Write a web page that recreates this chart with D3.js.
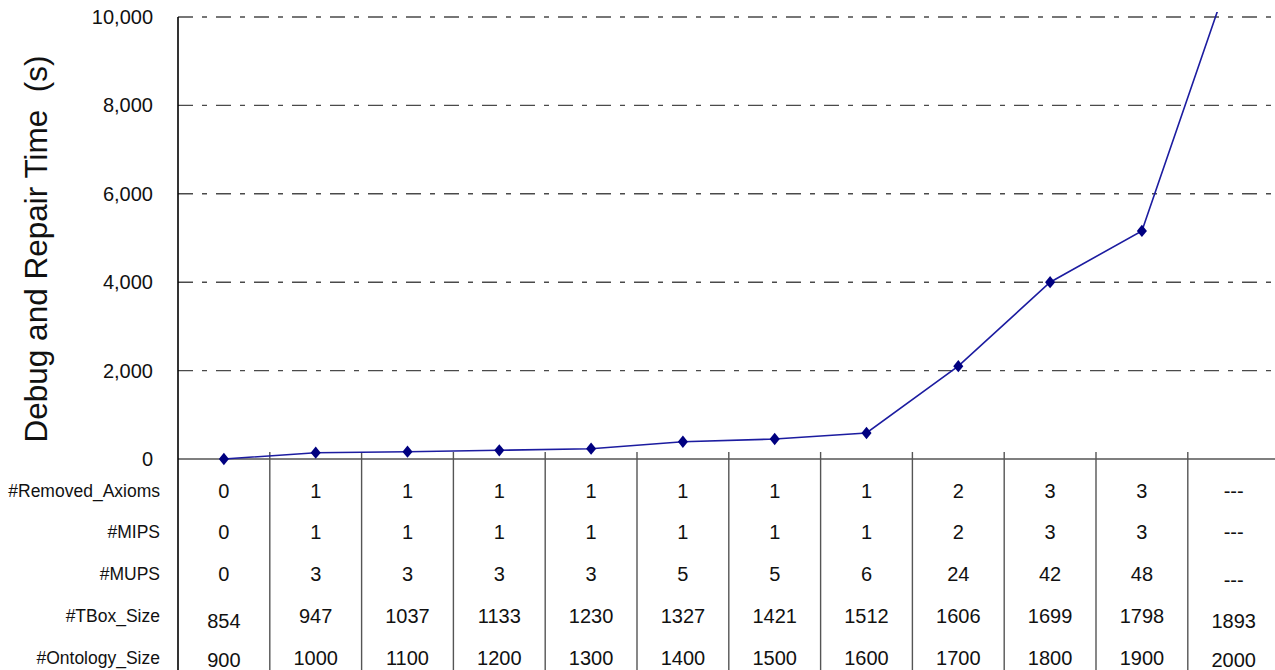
<!DOCTYPE html>
<html>
<head>
<meta charset="utf-8">
<script src="https://cdn.jsdelivr.net/npm/d3@7"></script>
<style>
  html, body { margin: 0; padding: 0; background: #fff; }
  svg { display: block; font-family: "Liberation Sans", Arial, sans-serif; }
</style>
</head>
<body>
<svg id="chart" width="1275" height="670"></svg>
<script>
// Ontology sizes along the x axis (one column per test ontology)
const ontologySize = ["900", "1000", "1100", "1200", "1300", "1400", "1500", "1600", "1700", "1800", "1900", "2000"];
// Debug and repair time in seconds
const repairTime = [0, 143, 165, 197, 233, 391, 452, 588, 2100, 4000, 5160, 11200];
// Table rows under the chart
const removedAxioms = ["0", "1", "1", "1", "1", "1", "1", "1", "2", "3", "3", "---"];
const mips = ["0", "1", "1", "1", "1", "1", "1", "1", "2", "3", "3", "---"];
const mups = ["0", "3", "3", "3", "3", "5", "5", "6", "24", "42", "48", "---"];
const tboxSize = ["854", "947", "1037", "1133", "1230", "1327", "1421", "1512", "1606", "1699", "1798", "1893"];
const rowLabels = ["#Removed_Axioms", "#MIPS", "#MUPS", "#TBox_Size", "#Ontology_Size"];
const yTicks = [0, 2000, 4000, 6000, 8000, 10000];

const svg = d3.select("#chart");
const plotLeft = 178, plotRight = 1279.6, plotTop = 17, zeroY = 459;

const x = d3.scaleBand().domain(d3.range(ontologySize.length)).range([plotLeft, plotRight]).padding(0);
const y = d3.scaleLinear().domain([0, 10000]).range([zeroY, plotTop]);

// Dash-dot gridlines
svg.append("g")
  .selectAll("line")
  .data(yTicks.filter(d => d > 0))
  .join("line")
  .attr("x1", plotLeft).attr("x2", 1275)
  .attr("y1", d => y(d)).attr("y2", d => y(d))
  .attr("stroke", "#4a4a4a").attr("stroke-width", 1.4)
  .attr("stroke-dasharray", "15,9,5,9");

// Y axis tick labels
const yAxis = d3.axisLeft(y).tickValues(yTicks).tickFormat(d3.format(",")).tickSize(0).tickPadding(25);
const gy = svg.append("g").attr("transform", `translate(${plotLeft},0)`).call(yAxis);
gy.select(".domain").remove();
gy.selectAll("text").attr("font-size", 20).attr("fill", "#111")
  .attr("font-family", "Liberation Sans, Arial, sans-serif");

// Zero baseline
svg.append("line").attr("x1", plotLeft).attr("x2", 1275).attr("y1", zeroY).attr("y2", zeroY)
  .attr("stroke", "#555").attr("stroke-width", 1.4);

// Column separators of the data table
svg.append("g").selectAll("line")
  .data(d3.range(1, ontologySize.length))
  .join("line")
  .attr("x1", i => x(i)).attr("x2", i => x(i))
  .attr("y1", zeroY - 7).attr("y2", 670)
  .attr("stroke", "#555").attr("stroke-width", 1.4);

// Left axis line running down through the table
svg.append("line").attr("x1", plotLeft).attr("x2", plotLeft).attr("y1", plotTop).attr("y2", 670)
  .attr("stroke", "#000").attr("stroke-width", 1.6);

// Y axis title
svg.append("text")
  .attr("transform", "translate(47,249) rotate(-90)")
  .attr("text-anchor", "middle")
  .attr("font-size", 31.5)
  .attr("fill", "#111")
  .attr("xml:space", "preserve")
  .text("Debug and Repair Time  (s)");

// Time series line, clipped to the plot area
svg.append("clipPath").attr("id", "plotClip")
  .append("rect").attr("x", plotLeft).attr("y", 12).attr("width", 1275 - plotLeft).attr("height", zeroY + 10 - 12);

const cx = i => x(i) + x.bandwidth() / 2;
const line = d3.line().x((d, i) => cx(i)).y(d => y(d));
const plot = svg.append("g").attr("clip-path", "url(#plotClip)");
plot.append("path")
  .datum(repairTime)
  .attr("d", line)
  .attr("fill", "none")
  .attr("stroke", "#1c1ca0")
  .attr("stroke-width", 1.6);

plot.selectAll("path.marker")
  .data(repairTime)
  .join("path")
  .attr("class", "marker")
  .attr("d", d3.symbol(d3.symbolDiamond2, 80))
  .attr("transform", (d, i) => `translate(${cx(i)},${y(d)}) scale(0.9,1.1)`)
  .attr("fill", "#000080");

// Data table rows
const rows = [removedAxioms, mips, mups, tboxSize, ontologySize];
const rowY = [491, 532, 574, 616, 658];

svg.append("g").selectAll("text")
  .data(rowLabels)
  .join("text")
  .attr("x", 160)
  .attr("y", (d, r) => rowY[r])
  .attr("text-anchor", "end")
  .attr("dominant-baseline", "central")
  .attr("font-size", 17.5)
  .attr("fill", "#111")
  .text(d => d);

rows.forEach((vals, r) => {
  svg.append("g").selectAll("text")
    .data(vals)
    .join("text")
    .attr("x", (d, i) => cx(i))
    .attr("y", (d, i) => {
      let yy = rowY[r];
      // first and last columns sit a little lower in the size rows
      if (r === 3 && (i === 0 || i === vals.length - 1)) yy += 5;
      if (r === 4 && (i === 0 || i === vals.length - 1)) yy += 2;
      if (r === 2 && i === vals.length - 1) yy += 6;
      return yy;
    })
    .attr("text-anchor", "middle")
    .attr("dominant-baseline", "central")
    .attr("font-size", 20)
    .attr("fill", "#111")
    .text(d => d);
});
</script>
</body>
</html>
